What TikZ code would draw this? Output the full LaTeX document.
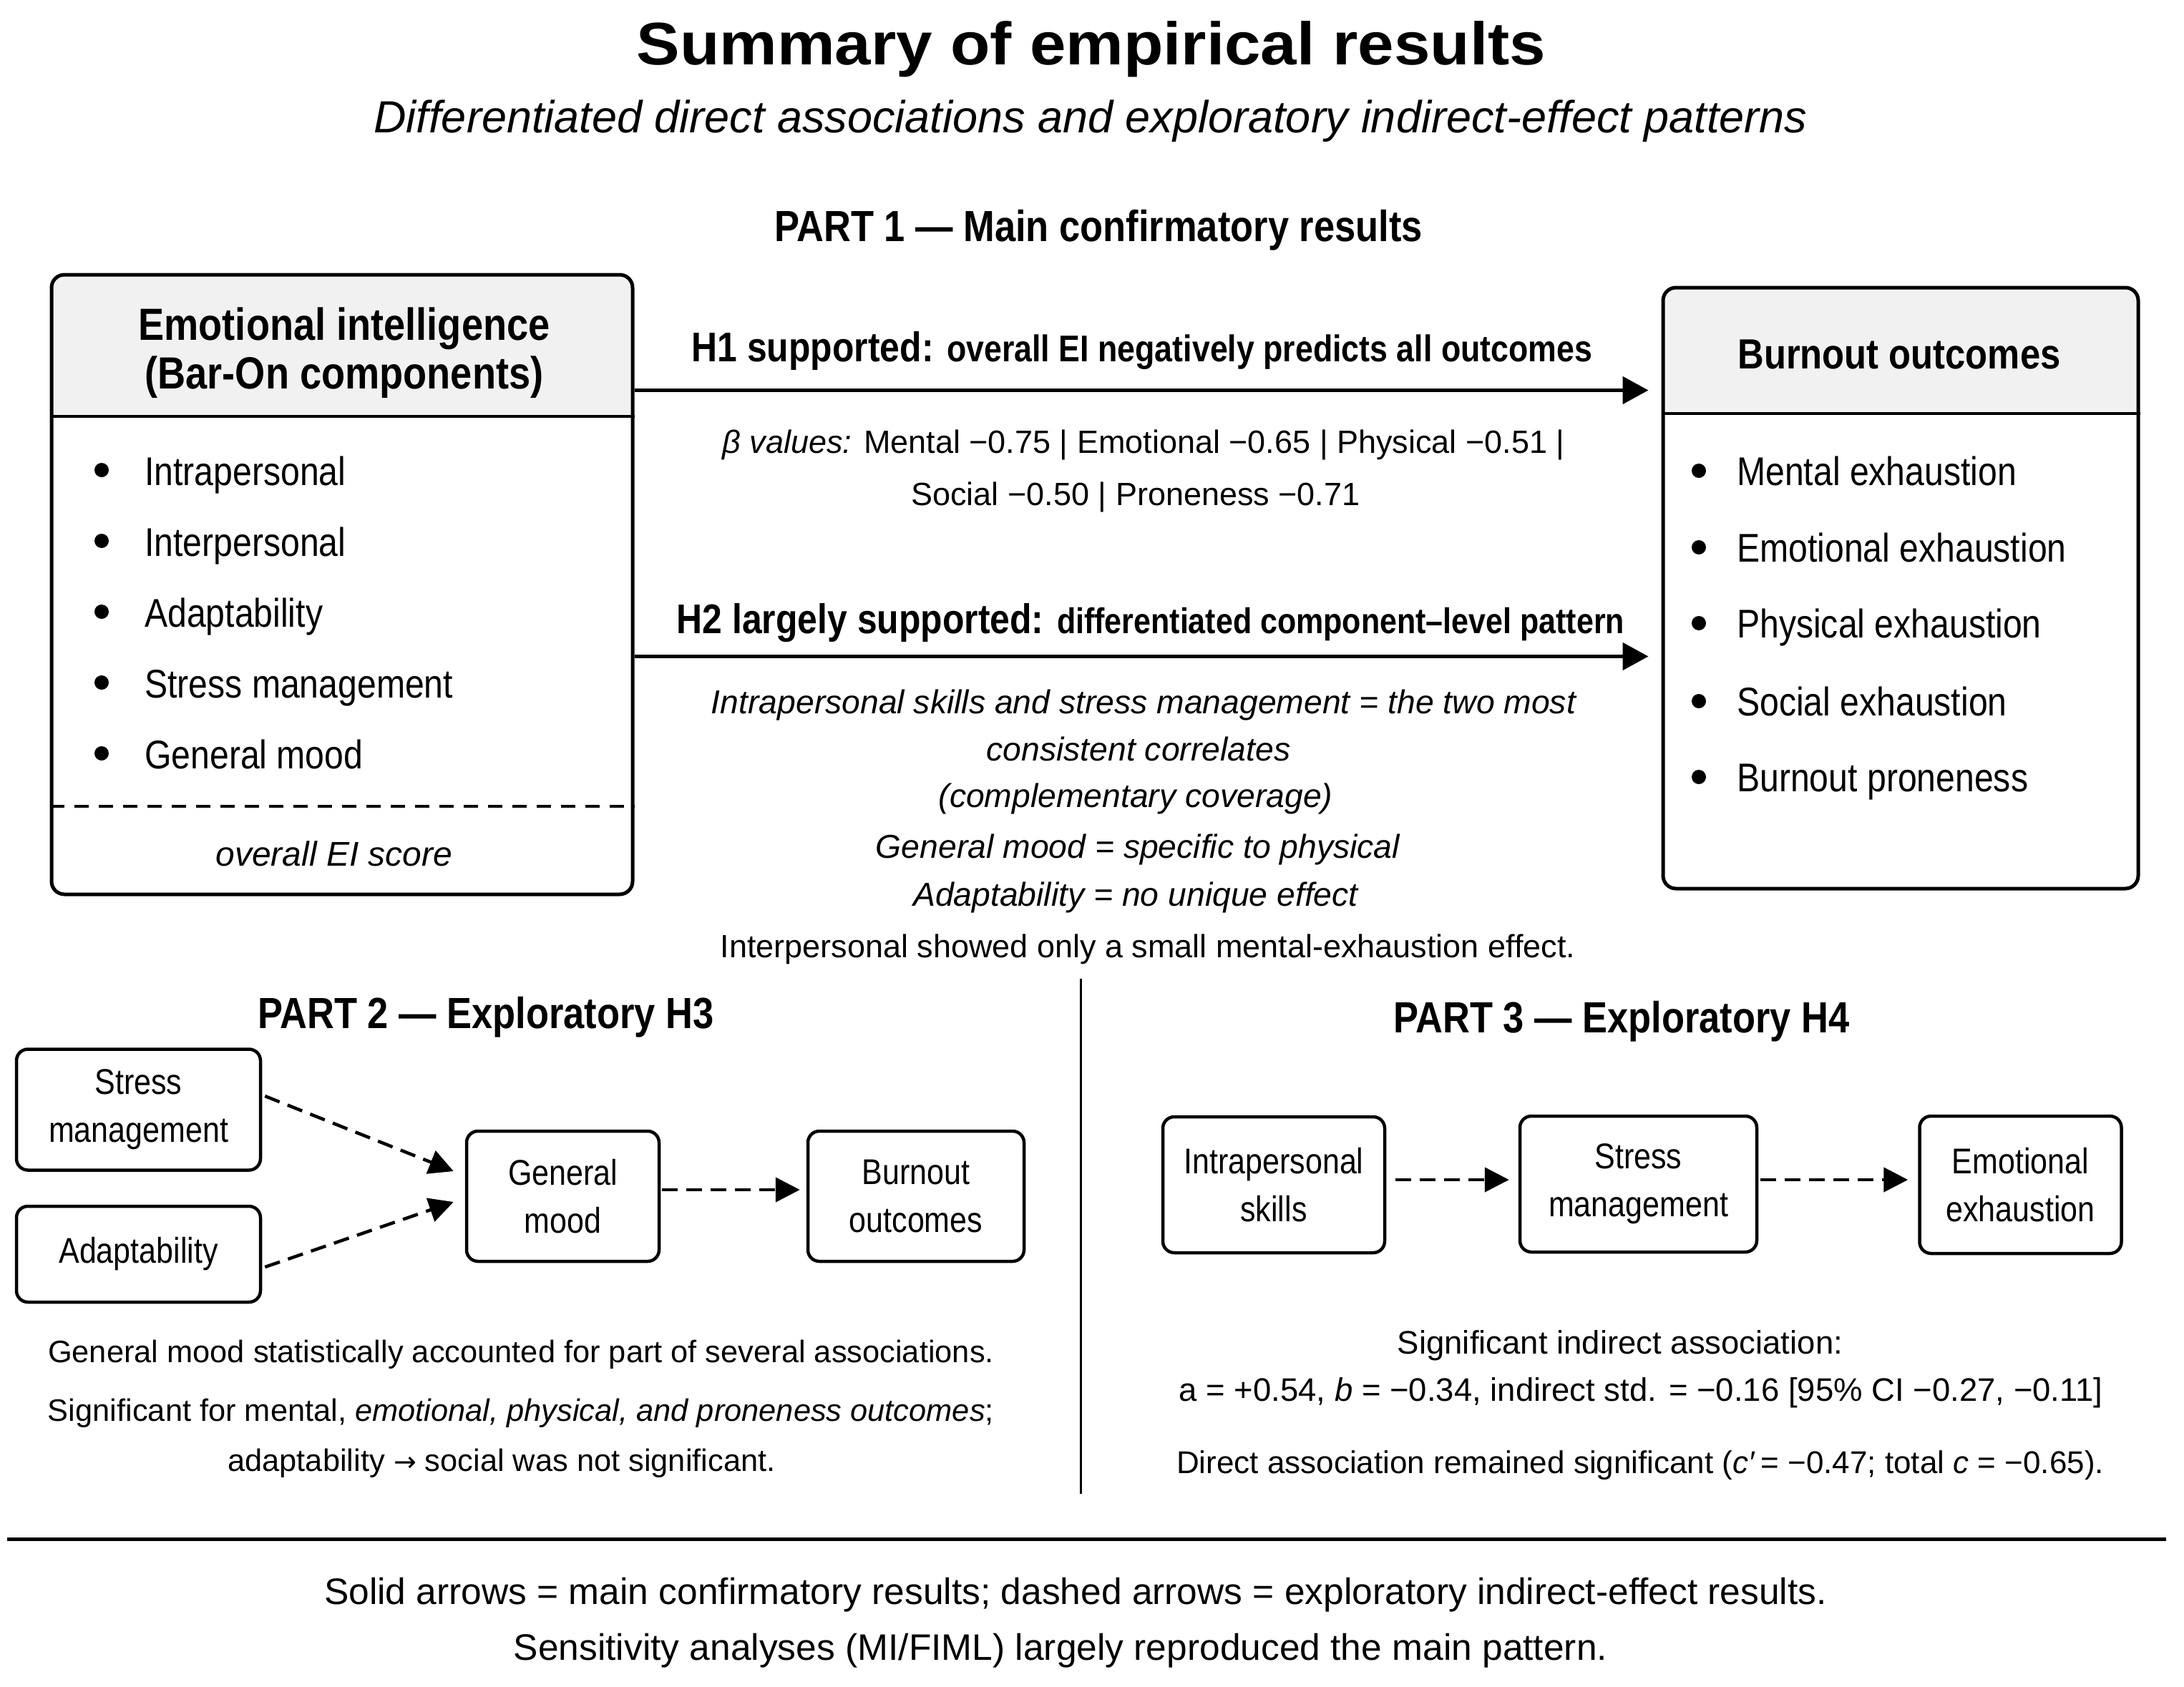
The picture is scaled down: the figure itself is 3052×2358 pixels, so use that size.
\documentclass[tikz,border=0pt]{standalone}
\usepackage{fontspec}
\setmainfont{Liberation Sans}
\newfontfamily\cnd{Liberation Sans}[FakeStretch=0.86]
\newfontfamily\ttlf{Liberation Sans}[FakeStretch=1.08]
\newfontfamily\arrowfont{DejaVu Sans}
\usetikzlibrary{arrows.meta,calc}
\newcommand\fsz[2]{\fontsize{#1}{#2}\selectfont}
\definecolor{hdrgray}{HTML}{F1F1F1}
\begin{document}
\begin{tikzpicture}[x=1pt,y=-1pt,
  txt/.style={inner sep=0pt, anchor=base},
  bigbox/.style={draw, line width=5pt, rounded corners=18pt, inner sep=0pt},
  smallbox/.style={draw, line width=4.5pt, rounded corners=16pt, inner sep=0pt, align=center, font=\cnd\fsz{50}{67}},
  solidarrow/.style={line width=5pt, -{Triangle[length=36pt,width=38pt]}},
  dasharrow/.style={line width=4.5pt, dash pattern=on 22pt off 12pt, -{Triangle[length=34pt,width=34pt]}},
  rulel/.style={line width=4.5pt},
  bodyA/.style={txt, font=\fsz{45}{54}},
  bodyI/.style={txt, font=\itshape\fsz{46.3}{55}},
]
\useasboundingbox (0,0) rectangle (3052,2358);
\fill[white] (0,0) rectangle (3052,2358);

% ---------- titles ----------
\node[txt, font=\ttlf\bfseries\fsz{84}{100}] (title) at (1525,91) {Summary of empirical results};
\node[txt, font=\itshape\fsz{63}{76}] (subtitle) at (1524,185) {Differentiated direct associations and exploratory indirect-effect patterns};
\node[txt, font=\cnd\bfseries\fsz{61}{73}] (part1) at (1535,337) {PART 1 — Main confirmatory results};

% ---------- EI box ----------
\begin{scope}
\clip[rounded corners=18pt] (72,384) rectangle (884,1250);
\fill[hdrgray] (72,384) rectangle (884,582);
\end{scope}
\node[bigbox, minimum width=812pt, minimum height=866pt] (ei) at (478,817) {};
\draw[rulel] (ei.west |- 0,582) -- (ei.east |- 0,582);
\node[txt, font=\cnd\bfseries\fsz{63}{75}] (eih1) at (481,475) {Emotional intelligence};
\node[txt, font=\cnd\bfseries\fsz{63}{75}] (eih2) at (481,543) {(Bar-On components)};
\foreach \t [count=\i] in {Intrapersonal, Interpersonal, Adaptability, Stress management, General mood}{
  \fill ({142},{678+(\i-1)*99-21}) circle (10pt);
  \node[txt, anchor=base west, font=\cnd\fsz{56}{68}] (eiitem\i) at (202,{678+(\i-1)*99}) {\t};
}
\draw[line width=3.5pt, dash pattern=on 20pt off 14pt] (ei.west |- 0,1127) -- (ei.east |- 0,1127);
\node[txt, font=\itshape\fsz{48}{58}] (eiscore) at (467,1210) {overall EI score};

% ---------- Burnout box ----------
\begin{scope}
\clip[rounded corners=18pt] (2324,402) rectangle (2988,1242);
\fill[hdrgray] (2324,402) rectangle (2988,578);
\end{scope}
\node[bigbox, minimum width=664pt, minimum height=840pt] (bo) at (2656,822) {};
\draw[rulel] (bo.west |- 0,578) -- (bo.east |- 0,578);
\node[txt, font=\cnd\bfseries\fsz{59}{70}] (boh) at (2654,515) {Burnout outcomes};
\foreach \t/\yy [count=\i] in {Mental exhaustion/678, Emotional exhaustion/785, Physical exhaustion/891, Social exhaustion/1000, Burnout proneness/1106}{
  \fill (2374,{\yy-20}) circle (10pt);
  \node[txt, anchor=base west, font=\cnd\fsz{56}{67}] (boitem\i) at (2427,\yy) {\t};
}

% ---------- H1 ----------
\node[txt, font=\cnd\bfseries\fsz{58}{70}] (h1) at (1596,505) {H1 supported: {\fsz{52}{62}overall EI negatively predicts all outcomes}};
\draw[solidarrow] ($(ei.north east)+(0,164)$) -- ($(bo.north west)+(-18,146)$);
\node[bodyA] (beta1) at (1598,633) {\itshape β values:\upshape{} Mental −0.75 | Emotional −0.65 | Physical −0.51 |};
\node[bodyA] (beta2) at (1587,706) {Social −0.50 | Proneness −0.71};

% ---------- H2 ----------
\node[txt, font=\cnd\bfseries\fsz{58}{70}] (h2) at (1608,885) {H2 largely supported: {\fsz{50}{60}differentiated component–level pattern}};
\draw[solidarrow] ($(ei.north east)+(0,536)$) -- ($(bo.north west)+(-18,518)$);
\node[bodyI] (h2a) at (1598,997) {Intrapersonal skills and stress management = the two most};
\node[bodyI] (h2b) at (1591,1063) {consistent correlates};
\node[bodyI] (h2c) at (1587,1128) {(complementary coverage)};
\node[bodyI] (h2d) at (1590,1199) {General mood = specific to physical};
\node[bodyI] (h2e) at (1587,1266) {Adaptability = no unique effect};
\node[bodyA] (h2f) at (1604,1338) {Interpersonal showed only a small mental-exhaustion effect.};

% ---------- divider ----------
\draw[line width=3pt] (1510,1368) -- (1510,2088);

% ---------- PART 2 ----------
\node[txt, font=\cnd\bfseries\fsz{61}{73}] (part2) at (679,1437) {PART 2 — Exploratory H3};
\node[smallbox, minimum width=341pt, minimum height=169pt] (sm2) at (193.5,1551) {Stress\\management};
\node[smallbox, minimum width=341pt, minimum height=134pt] (ad2) at (193.5,1753) {Adaptability};
\node[smallbox, minimum width=269pt, minimum height=182pt] (gm2) at (786.5,1672) {General\\mood};
\node[smallbox, minimum width=302pt, minimum height=182pt] (bo2) at (1280,1672) {Burnout\\outcomes};
\draw[dasharrow] ($(sm2.east)+(4,-19)$) -- ($(gm2.west)+(-16,-35)$);
\draw[dasharrow] ($(ad2.east)+(4,18)$) -- ($(gm2.west)+(-16,8)$);
\draw[dasharrow] ($(gm2.east)+(2,-9)$) -- ($(bo2.west)+(-9,-9)$);
\node[txt, font=\fsz{43.4}{53}] (p2a) at (728,1904) {General mood statistically accounted for part of several associations.};
\node[txt, font=\fsz{43.4}{53}] (p2b) at (728,1986) {Significant for mental, \textit{emotional, physical, and proneness outcomes};};
\node[txt, font=\fsz{43.4}{53}] (p2c) at (701,2056) {adaptability {\arrowfont\fsz{38}{53}→} social was not significant.};

% ---------- PART 3 ----------
\node[txt, font=\cnd\bfseries\fsz{61}{73}] (part3) at (2266,1443) {PART 3 — Exploratory H4};
\node[smallbox, minimum width=310pt, minimum height=190pt] (ip3) at (1780,1656) {Intrapersonal\\skills};
\node[smallbox, minimum width=331pt, minimum height=190pt] (st3) at (2289.5,1655) {Stress\\management};
\node[smallbox, minimum width=282pt, minimum height=192pt] (ee3) at (2823.5,1656) {Emotional\\exhaustion};
\draw[dasharrow] ($(ip3.east)+(13,-7)$) -- ($(st3.west)+(-13,-6)$);
\draw[dasharrow] ($(st3.east)+(3,-6)$) -- ($(ee3.west)+(-14,-7)$);
\node[txt, font=\fsz{45.5}{55}] (p3a) at (2264,1892) {Significant indirect association:};
\node[txt, font=\fsz{45.5}{55}] (p3b) at (2293,1958) {a = +0.54, \textit{b} = −0.34, indirect std. = −0.16 [95\% CI −0.27, −0.11]};
\node[txt, font=\fsz{44}{55}] (p3c) at (2292,2059) {Direct association remained significant (\textit{c′}\,= −0.47; total \textit{c} = −0.65).};

% ---------- footer ----------
\draw[line width=5pt] (10,2151) -- (3027,2151);
\node[txt, font=\fsz{51.5}{62}] (foot1) at (1503,2242) {Solid arrows = main confirmatory results; dashed arrows = exploratory indirect-effect results.};
\node[txt, font=\fsz{51.5}{62}] (foot2) at (1482,2320) {Sensitivity analyses (MI/FIML) largely reproduced the main pattern.};
\end{tikzpicture}
\end{document}
